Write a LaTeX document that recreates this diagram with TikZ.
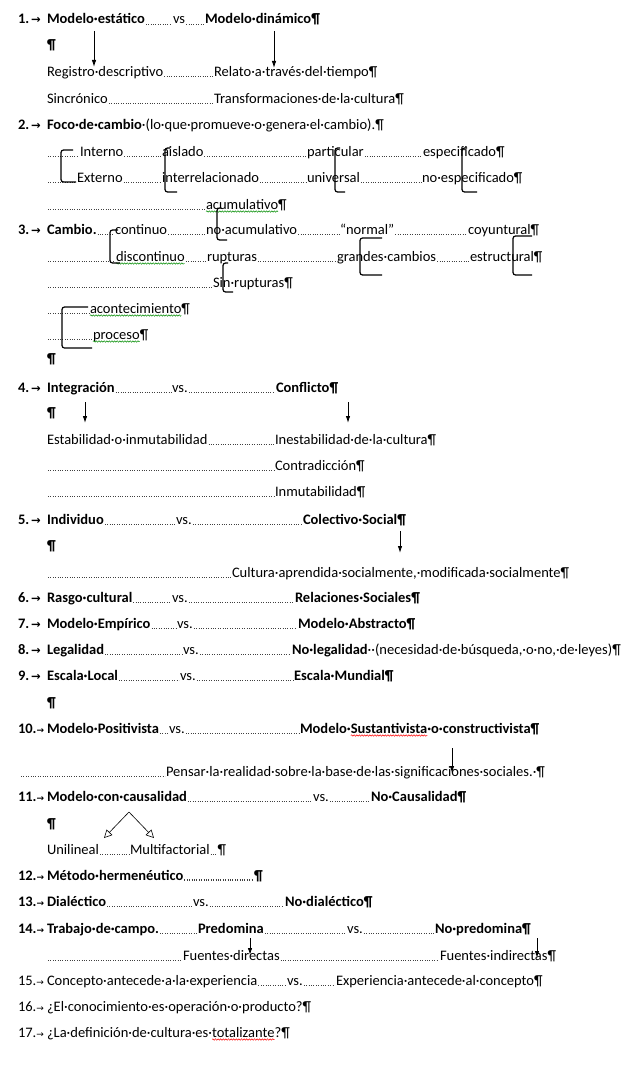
\documentclass[tikz,border=0pt]{standalone}
\usepackage{fontspec}
\setmainfont{Carlito}
\newfontfamily\dvfont{DejaVu Sans}
\usetikzlibrary{arrows.meta,decorations.pathmorphing}
\newcommand\fs{\fontsize{14.5}{17}\selectfont}
\newcommand\tabA{{\dvfont\bfseries\fontsize{11.5}{11.5}\selectfont →}}
\newcommand\tabB{{\dvfont\fontsize{9}{9}\selectfont →}}
\tikzset{
  txt/.style={anchor=base west, inner sep=0pt, outer sep=0pt, font=\fs},
  btxt/.style={txt, font=\fs\bfseries},
  leader/.style={line width=0.8pt, dash pattern=on 0.8pt off 1.6pt, black!75, shorten <=1pt, shorten >=1pt},
  bracket/.style={line width=1.2pt, rounded corners=2.5pt},
  arr/.style={line width=0.9pt, -{Latex[length=7pt,width=4.5pt]}},
  oarr/.style={line width=0.6pt, -{Triangle[open,length=8pt,width=8pt]}},
  gwave/.style={decorate, decoration={snake, amplitude=0.7pt, segment length=2.6pt}, green!55!black, line width=0.5pt},
  rwave/.style={gwave, red},
}
\begin{document}
\begin{tikzpicture}[x=1pt,y=-1pt]
\useasboundingbox (0,0) rectangle (634,1065);
\fill[white] (0,0) rectangle (634,1065);

% ---------- 1
\node[btxt] (n1) at (18,24) {1.\kern2pt\tabA};
\node[btxt] (a1) at (47,24) {Modelo·estático};
\node[txt]  (a2) at (173,24) {vs};
\node[btxt] (a3) at (205,24) {Modelo·dinámico¶};
\draw[leader] (a1.base east) -- (a2.base west);
\draw[leader] (a2.base east) -- (a3.base west);
\node[btxt] (p1) at (47,50) {¶};
\node[txt] (b1) at (47,76) {Registro·descriptivo};
\node[txt] (b2) at (214,76) {Relato·a·través·del·tiempo¶};
\draw[leader] (b1.base east) -- (b2.base west);
\node[txt] (c1) at (47,103) {Sincrónico};
\node[txt] (c2) at (214,103) {Transformaciones·de·la·cultura¶};
\draw[leader] (c1.base east) -- (c2.base west);
\coordinate (ar1s) at (94,31); \coordinate (ar1e) at (94,67);
\coordinate (ar2s) at (274,31); \coordinate (ar2e) at (274,68);
\draw[arr] (ar1s) -- (ar1e);
\draw[arr] (ar2s) -- (ar2e);

% ---------- 2
\node[btxt] (n2) at (18,129) {2.\kern2pt\tabA};
\node[btxt] (d1) at (47,129) {Foco·de·cambio};
\node[txt] (d2) at (d1.base east) {·(lo·que·promueve·o·genera·el·cambio).¶};
\coordinate (e0) at (47,156);
\node[txt] (e1) at (80,156) {Interno};
\node[txt] (e2) at (162,156) {aislado};
\node[txt] (e3) at (307,156) {particular};
\node[txt] (e4) at (423,156) {especificado¶};
\draw[leader] (e0) -- (e1.base west);
\draw[leader] (e1.base east) -- (e2.base west);
\draw[leader] (e2.base east) -- (e3.base west);
\draw[leader] (e3.base east) -- (e4.base west);
\coordinate (f0) at (47,182);
\node[txt] (f1) at (77,182) {Externo};
\node[txt] (f2) at (162,182) {interrelacionado};
\node[txt] (f3) at (307,182) {universal};
\node[txt] (f4) at (422,182) {no·especificado¶};
\draw[leader] (f0) -- (f1.base west);
\draw[leader] (f1.base east) -- (f2.base west);
\draw[leader] (f2.base east) -- (f3.base west);
\draw[leader] (f3.base east) -- (f4.base west);
\coordinate (g0) at (47,209);
\node[txt] (g1) at (206,209) {acumulativo};
\node[txt] (g1p) at (g1.base east) {¶};
\draw[leader] (g0) -- (g1.base west);
\draw[gwave] ([yshift=-2.5pt]g1.base west) -- ([yshift=-2.5pt]g1.base east);

% ---------- 3
\node[btxt] (n3) at (18,234) {3.\kern2pt\tabA};
\node[btxt] (h1) at (47,234) {Cambio.};
\node[txt] (h2) at (115,234) {continuo};
\node[txt] (h3) at (206,234) {no·acumulativo};
\node[txt] (h4) at (340,234) {“normal”};
\node[txt] (h5) at (468,234) {coyuntural¶};
\draw[leader] (h1.base east) -- (h2.base west);
\draw[leader] (h2.base east) -- (h3.base west);
\draw[leader] (h3.base east) -- (h4.base west);
\draw[leader] (h4.base east) -- (h5.base west);
\coordinate (i0) at (47,261);
\node[txt] (i1) at (116,261) {discontinuo};
\node[txt] (i2) at (207,261) {rupturas};
\node[txt] (i3) at (337,261) {grandes·cambios};
\node[txt] (i4) at (470,261) {estructural¶};
\draw[leader] (i0) -- (i1.base west);
\draw[leader] (i1.base east) -- (i2.base west);
\draw[leader] (i2.base east) -- (i3.base west);
\draw[leader] (i3.base east) -- (i4.base west);
\draw[gwave] ([yshift=-2.5pt]i1.base west) -- ([yshift=-2.5pt]i1.base east);
\coordinate (j0) at (47,287);
\node[txt] (j1) at (213,287) {Sin·rupturas¶};
\draw[leader] (j0) -- (j1.base west);
\coordinate (k0) at (47,313);
\node[txt] (k1) at (90,313) {acontecimiento};
\node[txt] (k1p) at (k1.base east) {¶};
\draw[leader] (k0) -- (k1.base west);
\draw[gwave] ([yshift=-2.5pt]k1.base west) -- ([yshift=-2.5pt]k1.base east);
\coordinate (l0) at (47,339);
\node[txt] (l1) at (93,339) {proceso};
\node[txt] (l1p) at (l1.base east) {¶};
\draw[leader] (l0) -- (l1.base west);
\draw[gwave] ([yshift=-2.5pt]l1.base west) -- ([yshift=-2.5pt]l1.base east);
\node[btxt] (p3) at (47,363) {¶};

% brackets
\draw[bracket] (73,150) -- (61,150) -- (61,182) -- (76,182);
\draw[bracket] (170,148) -- (165,148) -- (165,192) -- (177,192);
\draw[bracket] (221,208) -- (217,208) -- (217,240) -- (227,240);
\draw[bracket] (118,230) -- (110,230) -- (110,263) -- (120,263);
\draw[bracket] (228,263) -- (223,263) -- (223,292) -- (233,292);
\draw[bracket] (88,307) -- (62,307) -- (62,348) -- (92,348);
\draw[bracket] (340,148) -- (335,148) -- (335,192) -- (345,192);
\draw[bracket] (467,148) -- (462,148) -- (462,192) -- (477,192);
\draw[bracket] (382,238) -- (360,238) -- (360,275) -- (382,275);
\draw[bracket] (532,236) -- (513,236) -- (513,275) -- (532,275);

% ---------- 4
\node[btxt] (n4) at (18,392) {4.\kern2pt\tabA};
\node[btxt] (m1) at (47,392) {Integración};
\node[txt] (m2) at (172,392) {vs.};
\node[btxt] (m3) at (276,392) {Conflicto¶};
\draw[leader] (m1.base east) -- (m2.base west);
\draw[leader] (m2.base east) -- (m3.base west);
\node[btxt] (p4) at (47,417) {¶};
\coordinate (ar3s) at (85,402); \coordinate (ar3e) at (85,423);
\coordinate (ar4s) at (348,402); \coordinate (ar4e) at (348,423);
\draw[arr] (ar3s) -- (ar3e);
\draw[arr] (ar4s) -- (ar4e);
\node[txt] (o1) at (47,444) {Estabilidad·o·inmutabilidad};
\node[txt] (o2) at (275,444) {Inestabilidad·de·la·cultura¶};
\draw[leader] (o1.base east) -- (o2.base west);
\coordinate (q0) at (47,470);
\node[txt] (q1) at (275,470) {Contradicción¶};
\draw[leader] (q0) -- (q1.base west);
\coordinate (r0) at (47,496);
\node[txt] (r1) at (275,496) {Inmutabilidad¶};
\draw[leader] (r0) -- (r1.base west);

% ---------- 5
\node[btxt] (n5) at (18,524) {5.\kern2pt\tabA};
\node[btxt] (s1) at (47,524) {Individuo};
\node[txt] (s2) at (176,524) {vs.};
\node[btxt] (s3) at (303,524) {Colectivo·Social¶};
\draw[leader] (s1.base east) -- (s2.base west);
\draw[leader] (s2.base east) -- (s3.base west);
\node[btxt] (p5) at (47,550) {¶};
\coordinate (ar5s) at (400,531); \coordinate (ar5e) at (400,553);
\draw[arr] (ar5s) -- (ar5e);
\coordinate (u0) at (47,577);
\node[txt] (u1) at (232,577) {Cultura·aprendida·socialmente,·modificada·socialmente¶};
\draw[leader] (u0) -- (u1.base west);

% ---------- 6-9
\node[btxt] (n6) at (18,602) {6.\kern2pt\tabA};
\node[btxt] (v1) at (47,602) {Rasgo·cultural};
\node[txt] (v2) at (172,602) {vs.};
\node[btxt] (v3) at (295,602) {Relaciones·Sociales¶};
\draw[leader] (v1.base east) -- (v2.base west);
\draw[leader] (v2.base east) -- (v3.base west);
\node[btxt] (n7) at (18,628) {7.\kern2pt\tabA};
\node[btxt] (w1) at (47,628) {Modelo·Empírico};
\node[txt] (w2) at (177,628) {vs.};
\node[btxt] (w3) at (298,628) {Modelo·Abstracto¶};
\draw[leader] (w1.base east) -- (w2.base west);
\draw[leader] (w2.base east) -- (w3.base west);
\node[btxt] (n8) at (18,654) {8.\kern2pt\tabA};
\node[btxt] (x1) at (47,654) {Legalidad};
\node[txt] (x2) at (183,654) {vs.};
\node[btxt] (x3) at (292,654) {No·legalidad};
\node[txt] (x4) at (x3.base east) {··(necesidad·de·búsqueda,·o·no,·de·leyes)¶};
\draw[leader] (x1.base east) -- (x2.base west);
\draw[leader] (x2.base east) -- (x3.base west);
\node[btxt] (n9) at (18,680) {9.\kern2pt\tabA};
\node[btxt] (y1) at (47,680) {Escala·Local};
\node[txt] (y2) at (180,680) {vs.};
\node[btxt] (y3) at (294,680) {Escala·Mundial¶};
\draw[leader] (y1.base east) -- (y2.base west);
\draw[leader] (y2.base east) -- (y3.base west);
\node[btxt] (p9) at (47,707) {¶};

% ---------- 10
\node[btxt] (n10) at (18,733) {10.\tabB};
\node[btxt] (z1) at (47,733) {Modelo·Positivista};
\node[txt] (z2) at (169,733) {vs.};
\node[btxt] (z3) at (300,733) {Modelo·};
\node[btxt] (z4) at (z3.base east) {Sustantivista};
\node[btxt] (z5) at (z4.base east) {·o·constructivista¶};
\draw[leader] (z1.base east) -- (z2.base west);
\draw[leader] (z2.base east) -- (z3.base west);
\draw[rwave] ([yshift=-2.5pt]z4.base west) -- ([yshift=-2.5pt]z4.base east);
\coordinate (pa0) at (20,776);
\node[txt] (pa1) at (166,776) {Pensar·la·realidad·sobre·la·base·de·las·significaciones·sociales.·¶};
\draw[leader] (pa0) -- (pa1.base west);
\coordinate (ar6s) at (452,748); \coordinate (ar6e) at (452,773);
\draw[arr] (ar6s) -- (ar6e);

% ---------- 11
\node[btxt] (n11) at (18,801) {11.\tabB};
\node[btxt] (qa1) at (47,801) {Modelo·con·causalidad};
\node[txt] (qa2) at (313,801) {vs.};
\node[btxt] (qa3) at (371,801) {No·Causalidad¶};
\draw[leader] (qa1.base east) -- (qa2.base west);
\draw[leader] (qa2.base east) -- (qa3.base west);
\node[btxt] (p11) at (47,828) {¶};
\coordinate (apx) at (129,812);
\coordinate (tipl) at (104,838);
\coordinate (tipr) at (154,838);
\draw[oarr] (apx) -- (tipl);
\draw[oarr] (apx) -- (tipr);
\node[txt] (ua1) at (47,854) {Unilineal};
\node[txt] (ua2) at (130,854) {Multifactorial};
\node[txt] (ua3) at ([xshift=8pt]ua2.base east) {¶};
\draw[leader] (ua1.base east) -- (ua2.base west);
\draw[leader] (ua2.base east) -- (ua3.base west);

% ---------- 12-14
\node[btxt] (n12) at (18,880) {12.\tabB};
\node[btxt] (va1) at (47,880) {Método·hermenéutico};
\node[btxt] (va2) at (254,880) {¶};
\draw[leader, line width=1.1pt] (va1.base east) -- (va2.base west);
\node[btxt] (n13) at (18,906) {13.\tabB};
\node[btxt] (wa1) at (47,906) {Dialéctico};
\node[txt] (wa2) at (193,906) {vs.};
\node[btxt] (wa3) at (285,906) {No·dialéctico¶};
\draw[leader] (wa1.base east) -- (wa2.base west);
\draw[leader] (wa2.base east) -- (wa3.base west);
\node[btxt] (n14) at (18,933) {14.\tabB};
\node[btxt] (xa1) at (47,933) {Trabajo·de·campo.};
\node[btxt] (xa2) at (198,933) {Predomina};
\node[txt] (xa3) at (347,933) {vs.};
\node[btxt] (xa4) at (435,933) {No·predomina¶};
\draw[leader] (xa1.base east) -- (xa2.base west);
\draw[leader] (xa2.base east) -- (xa3.base west);
\draw[leader] (xa3.base east) -- (xa4.base west);
\coordinate (ya0) at (47,960);
\node[txt] (ya1) at (183,960) {Fuentes·directas};
\node[txt] (ya2) at (440,960) {Fuentes·indirectas¶};
\draw[leader] (ya0) -- (ya1.base west);
\draw[leader] (ya1.base east) -- (ya2.base west);
\coordinate (ar7s) at (250,938); \coordinate (ar7e) at (250,955);
\coordinate (ar8s) at (537,938); \coordinate (ar8e) at (537,958);
\draw[arr] (ar7s) -- (ar7e);
\draw[arr] (ar8s) -- (ar8e);

% ---------- 15-17
\node[txt] (n15) at (18,985) {15.\tabB};
\node[txt] (za1) at (47,985) {Concepto·antecede·a·la·experiencia};
\node[txt] (za2) at (287,985) {vs.};
\node[txt] (za3) at (336,985) {Experiencia·antecede·al·concepto¶};
\draw[leader] (za1.base east) -- (za2.base west);
\draw[leader] (za2.base east) -- (za3.base west);
\node[txt] (n16) at (18,1011) {16.\tabB};
\node[txt] (zb1) at (47,1011) {¿El·conocimiento·es·operación·o·producto?¶};
\node[txt] (n17) at (18,1037) {17.\tabB};
\node[txt] (zc1) at (47,1037) {¿La·definición·de·cultura·es·};
\node[txt] (zc2) at (zc1.base east) {totalizante};
\node[txt] (zc3) at (zc2.base east) {?¶};
\draw[rwave] ([yshift=-2.5pt]zc2.base west) -- ([yshift=-2.5pt]zc2.base east);
\end{tikzpicture}
\end{document}
